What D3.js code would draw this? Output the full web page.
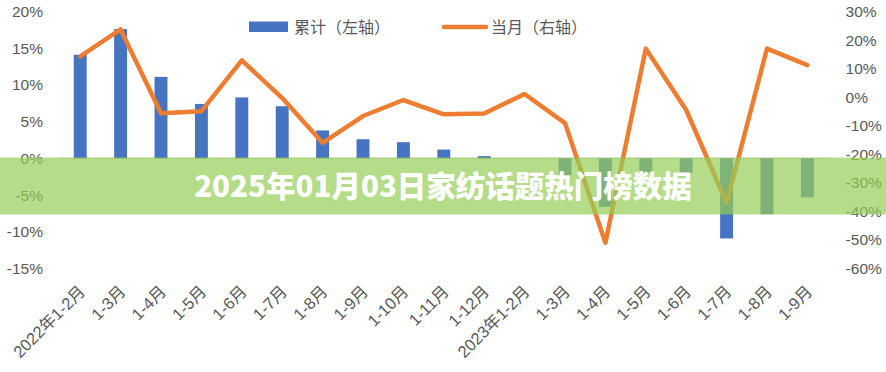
<!DOCTYPE html>
<html>
<head>
<meta charset="utf-8">
<script src="https://cdn.jsdelivr.net/npm/d3@7"></script>
<style>
  html, body { margin: 0; padding: 0; background: #fff; }
  svg { display: block; }
</style>
</head>
<body>
<svg id="chart" width="886" height="372"></svg>
<script>
const categories = ["2022年1-2月","1-3月","1-4月","1-5月","1-6月","1-7月","1-8月","1-9月","1-10月","1-11月","1-12月",
  "2023年1-2月","1-3月","1-4月","1-5月","1-6月","1-7月","1-8月","1-9月"];
const cumulative = [14.1, 17.6, 11.1, 7.4, 8.3, 7.1, 3.8, 2.6, 2.2, 1.2, 0.3, 0.0, -2.3, -6.6, -2.0, -2.0, -10.9, -7.6, -5.3];
const monthly = [14.3, 23.7, -5.6, -4.9, 12.9, -0.3, -16.0, -6.6, -1.0, -6.0, -5.7, 1.1, -9.1, -51.0, 17.0, -4.5, -37.0, 17.0, 11.2];
const leftTicks = [20, 15, 10, 5, 0, -5, -10, -15];
const rightTicks = [30, 20, 10, 0, -10, -20, -30, -40, -50, -60];
const seriesNames = ["累计（左轴）", "当月（右轴）"];
const title = "2025年01月03日家纺话题热门榜数据";

const svg = d3.select("#chart");
const plot = { left: 60, right: 827.6, top: 11.5, bottom: 268.5 };
const textColor = "#595959";
const numFont = "'Liberation Sans', 'Noto Sans CJK SC', sans-serif";
const cjkFont = "'Noto Sans CJK SC', sans-serif";

const x = d3.scaleBand().domain(d3.range(categories.length)).range([plot.left, plot.right]).paddingInner(0.68).paddingOuter(0.34);
const yL = d3.scaleLinear().domain([-15, 20]).range([plot.bottom, plot.top]);
const yR = d3.scaleLinear().domain([-60, 30]).range([plot.bottom, plot.top]);

// zero axis line
svg.append("line")
  .attr("x1", plot.left).attr("x2", plot.right)
  .attr("y1", yL(0)).attr("y2", yL(0))
  .attr("stroke", "#d9d9d9").attr("stroke-width", 1.2);

// left axis
const leftAxis = svg.append("g").attr("transform", `translate(${plot.left - 17},0)`)
  .call(d3.axisLeft(yL).tickValues(leftTicks).tickSize(0).tickPadding(0).tickFormat(d => d + "%"));
leftAxis.select(".domain").remove();
leftAxis.selectAll("text").attr("fill", textColor).style("font-family", numFont).style("font-size", "15.5px");

// right axis
const rightAxis = svg.append("g").attr("transform", `translate(${plot.right + 18},0)`)
  .call(d3.axisRight(yR).tickValues(rightTicks).tickSize(0).tickPadding(0).tickFormat(d => d + "%"));
rightAxis.select(".domain").remove();
rightAxis.selectAll("text").attr("fill", textColor).style("font-family", numFont).style("font-size", "15.5px");

// x axis labels
const xAxis = svg.append("g").attr("transform", `translate(0,${plot.bottom + 8})`)
  .call(d3.axisBottom(x).tickSize(0).tickPadding(0).tickFormat(i => categories[i]));
xAxis.select(".domain").remove();
xAxis.selectAll("text")
  .attr("fill", textColor)
  .style("font-family", numFont).style("font-size", "16.5px")
  .attr("text-anchor", "end")
  .attr("dy", "0.35em")
  .attr("transform", "translate(2,12) rotate(-45)");

// bars
svg.append("g").selectAll("rect").data(cumulative).join("rect")
  .attr("x", (d, i) => x(i))
  .attr("width", x.bandwidth())
  .attr("y", d => yL(Math.max(0, d)))
  .attr("height", d => Math.abs(yL(d) - yL(0)))
  .attr("fill", "#4673c2");

// line
const line = d3.line().x((d, i) => x(i) + x.bandwidth() / 2).y(d => yR(d));
svg.append("path").datum(monthly)
  .attr("d", line)
  .attr("fill", "none")
  .attr("stroke", "#ed7d31")
  .attr("stroke-width", 4.5)
  .attr("stroke-linejoin", "round")
  .attr("stroke-linecap", "round");

// legend
const lg = svg.append("g");
lg.append("rect").attr("x", 249).attr("y", 21.5).attr("width", 39).attr("height", 10.5).attr("fill", "#4673c2");
lg.append("text").attr("x", 294).attr("y", 27).attr("dy", "0.35em").text(seriesNames[0])
  .attr("fill", textColor).style("font-family", cjkFont).style("font-size", "16px");
lg.append("line").attr("x1", 444).attr("x2", 486).attr("y1", 27).attr("y2", 27)
  .attr("stroke", "#ed7d31").attr("stroke-width", 4.5).attr("stroke-linecap", "round");
lg.append("text").attr("x", 491).attr("y", 27).attr("dy", "0.35em").text(seriesNames[1])
  .attr("fill", textColor).style("font-family", cjkFont).style("font-size", "16px");

// banner overlay
svg.append("rect").attr("x", 0).attr("y", 157.5).attr("width", 886).attr("height", 57)
  .attr("fill", "rgb(149,205,85)").attr("fill-opacity", 0.7);
svg.append("text").attr("x", 443).attr("y", 187).attr("dy", "0.35em")
  .attr("text-anchor", "middle").text(title)
  .attr("fill", "#ffffff").style("font-family", cjkFont).style("font-weight", "900").style("font-size", "29.5px");
</script>
</body>
</html>
